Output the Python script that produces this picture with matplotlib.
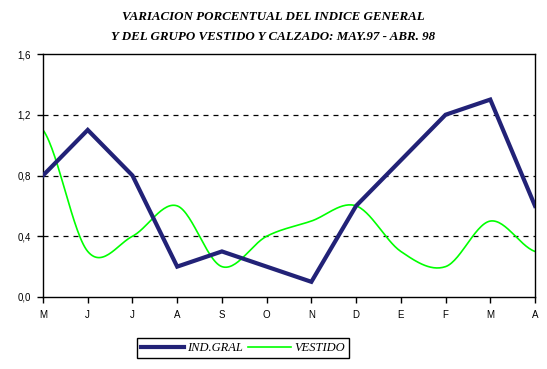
import numpy as np
import matplotlib.pyplot as plt

months = ['M', 'J', 'J', 'A', 'S', 'O', 'N', 'D', 'E', 'F', 'M', 'A']
ind_gral = [0.8, 1.1, 0.8, 0.2, 0.3, 0.2, 0.1, 0.6, 0.9, 1.2, 1.3, 0.6]
vestido = [1.1, 0.3, 0.4, 0.6, 0.2, 0.4, 0.5, 0.6, 0.3, 0.2, 0.5, 0.3]
yticks = [0.0, 0.4, 0.8, 1.2, 1.6]


def smooth(y, n=30):
    # catmull-rom curve through the points (like excel's smoothed line)
    y = np.asarray(y, float)
    p = np.concatenate([[y[0]], y, [y[-1]]])
    xs, ys = [], []
    for i in range(len(y) - 1):
        p0, p1, p2, p3 = p[i], p[i + 1], p[i + 2], p[i + 3]
        t = np.linspace(0, 1, n, endpoint=False)
        yy = 0.5 * (2 * p1 + (-p0 + p2) * t + (2 * p0 - 5 * p1 + 4 * p2 - p3) * t ** 2
                    + (-p0 + 3 * p1 - 3 * p2 + p3) * t ** 3)
        xs.append(i + t)
        ys.append(yy)
    xs.append([len(y) - 1])
    ys.append([y[-1]])
    return np.concatenate(xs), np.concatenate(ys)


fig = plt.figure(figsize=(5.47, 3.69), dpi=100)
ax = fig.add_axes([43 / 547, 1 - 297 / 369, 492 / 547, 243 / 369])

x = np.arange(len(months))
ax.plot(x, ind_gral, color='#222277', lw=3.0, label='IND.GRAL', solid_joinstyle='miter', zorder=3)
sx, sy = smooth(vestido)
ax.plot(sx, sy, color='#00ff00', lw=1.2, label='VESTIDO', zorder=2)

ax.set_xlim(0, len(months) - 1)
ax.set_ylim(0, 1.6)
ax.set_xticks(x)
ax.set_xticklabels(months, fontname='Liberation Sans', fontsize=7)
ax.set_yticks(yticks)
ax.set_yticklabels([f'{v:.1f}'.replace('.', ',') for v in yticks], fontname='Liberation Sans', fontsize=7)
ax.tick_params(length=4, width=1, color='black', pad=5)
for v in yticks[1:4]:
    ax.axhline(v, color='black', lw=0.9, ls=(0, (4, 4)), zorder=1)
for s in ax.spines.values():
    s.set_linewidth(1)

fig.text(0.5, 1 - 17 / 369, 'VARIACION PORCENTUAL DEL INDICE GENERAL', ha='center', va='center',
         fontname='Liberation Serif', fontweight='bold', fontstyle='italic', fontsize=9.4)
fig.text(0.5, 1 - 37 / 369, 'Y DEL GRUPO VESTIDO Y CALZADO: MAY.97 - ABR. 98', ha='center', va='center',
         fontname='Liberation Serif', fontweight='bold', fontstyle='italic', fontsize=9.4)

leg = fig.legend(loc='center', bbox_to_anchor=(243 / 547, 1 - 348 / 369), ncol=2,
                 prop={'family': 'Liberation Serif', 'style': 'italic', 'size': 9},
                 frameon=True, fancybox=False, edgecolor='black', framealpha=1,
                 handlelength=3.4, handletextpad=0.3, columnspacing=0.4, borderpad=0.3,
                 borderaxespad=0)
leg.get_frame().set_linewidth(1)

fig.savefig('out.png', dpi=100)
